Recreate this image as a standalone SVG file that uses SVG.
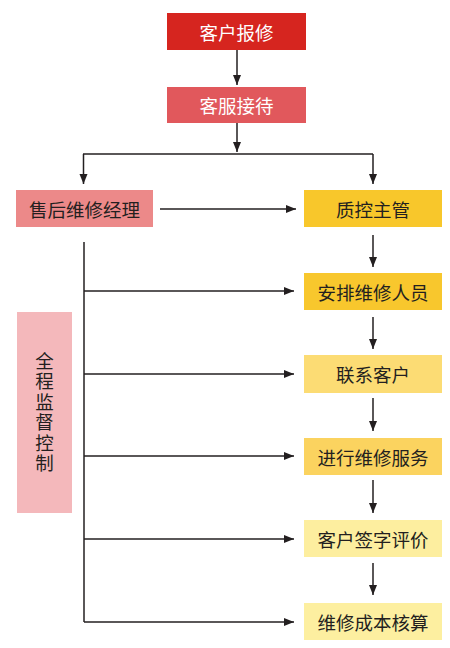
<svg xmlns="http://www.w3.org/2000/svg" width="450" height="648" viewBox="0 0 450 648">
<defs>
<marker id="ah" markerWidth="10" markerHeight="10" viewBox="0 0 10 10" refX="10" refY="5" orient="auto" markerUnits="userSpaceOnUse">
<path d="M0,1 L10,5 L0,9 Z" fill="#231f20"/>
</marker>
<style>
.t{font-family:"Noto Sans CJK SC","Noto Sans",sans-serif;font-size:18.5px;text-anchor:middle;dominant-baseline:central;fill:#231f20}
.w{fill:#ffffff}
.v{writing-mode:vertical-rl;text-orientation:upright;letter-spacing:2px}
.c path{fill:none;stroke:#231f20;stroke-width:1.5}
.a{marker-end:url(#ah)}
</style>
</defs>
<rect width="450" height="648" fill="#ffffff"/>
<g id="n1"><rect x="167" y="13" width="139" height="37" fill="#d6251f"/><text class="t w" x="236.5" y="31.5">客户报修</text></g>
<g id="n2"><rect x="167" y="87" width="139" height="36" fill="#e1585c"/><text class="t w" x="236.5" y="105">客服接待</text></g>
<g id="n3"><rect x="16" y="190" width="137" height="37" fill="#ec8989"/><text class="t" x="84.5" y="208.5">售后维修经理</text></g>
<g id="n4"><rect x="304" y="190" width="138" height="37" fill="#f8c72b"/><text class="t" x="373" y="208.5">质控主管</text></g>
<g id="n5"><rect x="304" y="273" width="138" height="37" fill="#f8c72d"/><text class="t" x="373" y="291.5">安排维修人员</text></g>
<g id="n6"><rect x="304" y="355" width="138" height="38" fill="#fcdc74"/><text class="t" x="373" y="374">联系客户</text></g>
<g id="n7"><rect x="304" y="438" width="138" height="37" fill="#fbd35f"/><text class="t" x="373" y="456.5">进行维修服务</text></g>
<g id="n8"><rect x="304" y="520" width="138" height="37" fill="#fdee9f"/><text class="t" x="373" y="538.5">客户签字评价</text></g>
<g id="n9"><rect x="304" y="603" width="138" height="37" fill="#fdefa0"/><text class="t" x="373" y="621.5">维修成本核算</text></g>
<g id="n10"><rect x="17" y="312" width="55" height="201" fill="#f4b8bb"/>
<text class="t v" x="44.5" y="413">全程监督控制</text>
</g>
<g id="connectors" class="c">
<path class="a" d="M237,50 V85"/>
<path class="a" d="M237,123 V152"/>
<path d="M83,154 H373"/>
<path class="a" d="M83.5,154 V184"/>
<path class="a" d="M373,154 V184"/>
<path class="a" d="M160,209 H296"/>
<path class="a" d="M373,235 V267"/>
<path class="a" d="M373,317 V349"/>
<path class="a" d="M373,398 V431"/>
<path class="a" d="M373,480 V513"/>
<path class="a" d="M373,563 V595"/>
<path d="M84,242 V622"/>
<path class="a" d="M84,291 H294"/>
<path class="a" d="M84,374 H294"/>
<path class="a" d="M84,456 H294"/>
<path class="a" d="M84,539 H294"/>
<path class="a" d="M84,622 H294"/>
</g>
</svg>
